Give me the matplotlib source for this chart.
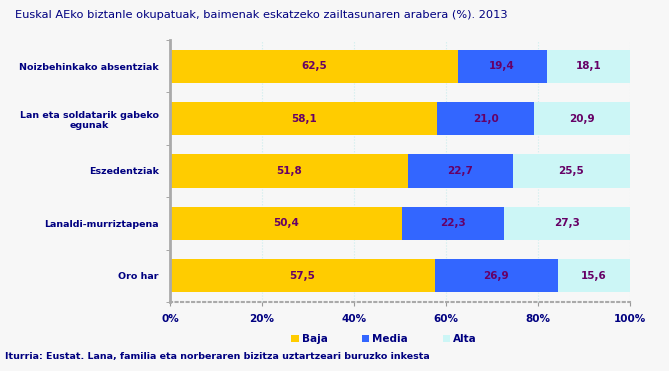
import numpy as np
import matplotlib.pyplot as plt

categories = ['Noizbehinkako absentziak', 'Lan eta soldatarik gabeko\negunak',
              'Eszedentziak', 'Lanaldi-murriztapena', 'Oro har']
baja = [62.5, 58.1, 51.8, 50.4, 57.5]
media = [19.4, 21.0, 22.7, 22.3, 26.9]
alta = [18.1, 20.9, 25.5, 27.3, 15.6]
series_names = ['Baja', 'Media', 'Alta']
colors = ['#FFCC00', '#3366FF', '#CCF6F6']

navy = '#000080'
bg = '#F7F7F7'

fig = plt.figure(figsize=(6.69, 3.71), dpi=100, facecolor=bg)
ax = fig.add_axes([170 / 669, (371 - 302) / 371, 460 / 669, 262 / 371])
ax.set_facecolor(bg)

y = np.arange(len(categories))
left = np.zeros(len(categories))
for vals, name, col in zip([baja, media, alta], series_names, colors):
    bars = ax.barh(y, vals, left=left, height=0.63, color=col, label=name, zorder=2)
    for b, v in zip(bars, vals):
        ax.text(b.get_x() + b.get_width() / 2, b.get_y() + b.get_height() / 2,
                f'{v:.1f}'.replace('.', ','), ha='center', va='center',
                fontsize=7.5, fontweight='bold', color='#660066', zorder=3)
    left += np.array(vals)

ax.set_xlim(0, 100)
ax.set_ylim(len(categories) - 0.5, -0.5)
ax.set_xticks(np.arange(0, 101, 20))
ax.set_xticklabels([f'{t}%' for t in range(0, 101, 20)])
ax.set_yticks(y)
ax.set_yticklabels(categories, ha='right', multialignment='center')
ax.set_yticks(np.arange(-0.5, len(categories), 1), minor=True)
ax.tick_params(axis='y', which='major', length=0, pad=8)
ax.tick_params(axis='y', which='minor', length=3, color='#999999')
ax.tick_params(axis='x', length=3, color='#999999', pad=6)
for lbl in ax.get_xticklabels():
    lbl.set_color(navy)
    lbl.set_fontweight('bold')
    lbl.set_fontsize(7.5)
for lbl in ax.get_yticklabels():
    lbl.set_color(navy)
    lbl.set_fontweight('bold')
    lbl.set_fontsize(6.8)

ax.grid(axis='x', color='#CCEEEE', linestyle=':', linewidth=0.8, zorder=0)
for s in ['top', 'right']:
    ax.spines[s].set_visible(False)
ax.spines['left'].set_color('#AAAAAA')
ax.spines['left'].set_linewidth(2)
ax.spines['bottom'].set_color('#AAAAAA')
ax.spines['bottom'].set_linestyle(':')
ax.spines['bottom'].set_linewidth(1.5)

fig.text(15 / 669, (371 - 15) / 371,
         'Euskal AEko biztanle okupatuak, baimenak eskatzeko zailtasunaren arabera (%). 2013',
         ha='left', va='center', color=navy, fontsize=8.2)

leg = fig.legend(loc='center', bbox_to_anchor=(384 / 669, (371 - 339) / 371), ncol=3,
                 frameon=False, fontsize=7.5, handlelength=0.7, handleheight=0.7,
                 handletextpad=0.3, columnspacing=3.3)
for t in leg.get_texts():
    t.set_color(navy)
    t.set_fontweight('bold')

fig.text(5 / 669, (371 - 357) / 371,
         'Iturria: Eustat. Lana, familia eta norberaren bizitza uztartzeari buruzko inkesta',
         ha='left', va='center', color=navy, fontsize=6.8, fontweight='bold')

fig.savefig('out.png', dpi=100, facecolor=bg)
